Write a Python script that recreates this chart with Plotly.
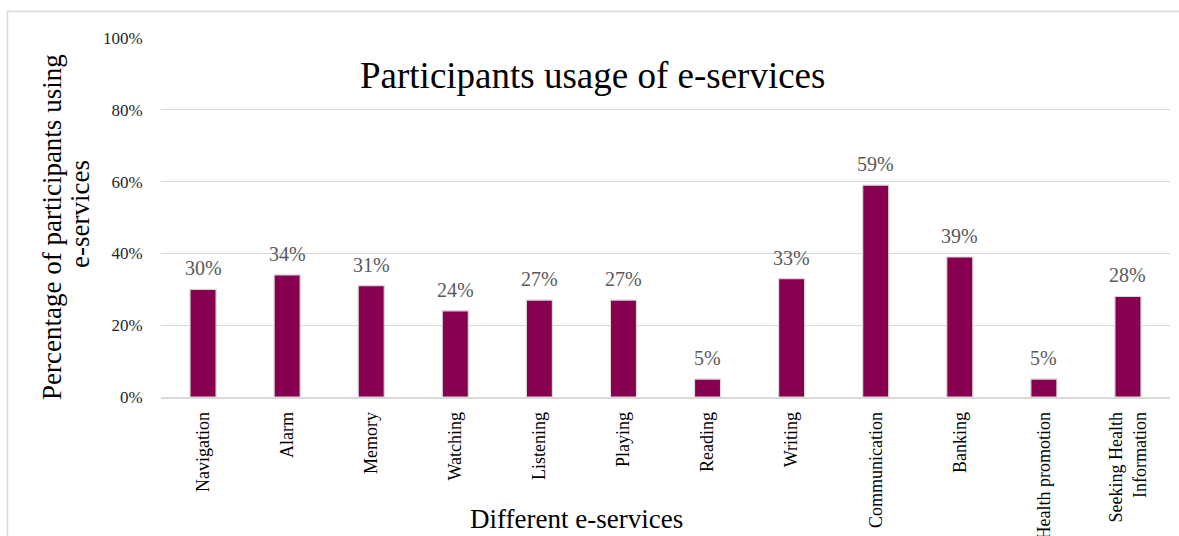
import plotly.graph_objects as go

categories = ["Navigation", "Alarm", "Memory", "Watching", "Listening", "Playing",
              "Reading", "Writing", "Communication", "Banking", "Health promotion",
              "Seeking Health<br>Information"]
values = [30, 34, 31, 24, 27, 27, 5, 33, 59, 39, 5, 28]
labels = [f"{v}%" for v in values]
y_ticks = [0, 20, 40, 60, 80, 100]
y_tick_text = [f"{t}%" for t in y_ticks]

FONT = "Liberation Serif"

fig = go.Figure(go.Bar(
    x=categories, y=values,
    marker=dict(color="#870050", line=dict(color="#d9d9d9", width=1.2)),
    width=0.31,
))

L, R, T, B = 161, 9, 38, 139
W, H = 1179, 536
pw = W - L - R
ph = H - T - B

def px_x(p):
    return (p - L) / pw

def px_y(p):
    return (H - B - p) / ph

annotations = [
    dict(text="Participants usage of e-services", xref="paper", yref="paper",
         x=px_x(592), y=px_y(75), xanchor="center", yanchor="middle",
         showarrow=False, font=dict(family=FONT, size=37, color="#000000")),
    dict(text="Different e-services", xref="paper", yref="paper",
         x=px_x(576), y=px_y(519), xanchor="center", yanchor="middle",
         showarrow=False, font=dict(family=FONT, size=27, color="#000000")),
    dict(text="Percentage of participants using", xref="paper", yref="paper",
         x=px_x(52), y=px_y(227), xanchor="center", yanchor="middle", textangle=-90,
         showarrow=False, font=dict(family=FONT, size=27, color="#000000")),
    dict(text="e-services", xref="paper", yref="paper",
         x=px_x(80), y=px_y(214), xanchor="center", yanchor="middle", textangle=-90,
         showarrow=False, font=dict(family=FONT, size=27, color="#000000")),
]
for c, v, t in zip(categories, values, labels):
    annotations.append(dict(text=t, x=c, y=v, xref="x", yref="y",
                            xanchor="center", yanchor="bottom", yshift=8,
                            showarrow=False,
                            font=dict(family=FONT, size=20, color="#595959")))

fig.update_layout(
    width=W, height=H,
    margin=dict(l=L, r=R, t=T, b=B, autoexpand=False),
    plot_bgcolor="white", paper_bgcolor="white",
    showlegend=False,
    font=dict(family=FONT, color="#000000"),
    xaxis=dict(tickangle=-90, tickfont=dict(family=FONT, size=18, color="#000000"),
               showgrid=False, showline=True, linecolor="#d9d9d9", linewidth=1.5,
               automargin=False, ticks="outside", ticklen=6, tickcolor="white"),
    yaxis=dict(range=[0, 100], tickvals=y_ticks, ticktext=y_tick_text,
               tickfont=dict(family=FONT, size=17, color="#262626"),
               showgrid=True, gridcolor="#d9d9d9", gridwidth=1.3,
               zeroline=False, automargin=False,
               ticks="outside", ticklen=14, tickcolor="white"),
    shapes=[dict(type="rect", xref="paper", yref="paper",
                 x0=px_x(7.5), x1=px_x(1300), y0=px_y(11.5), y1=px_y(700),
                 line=dict(color="#d9d9d9", width=1.5), layer="below")],
    annotations=annotations,
)

fig.write_html("out.html")
